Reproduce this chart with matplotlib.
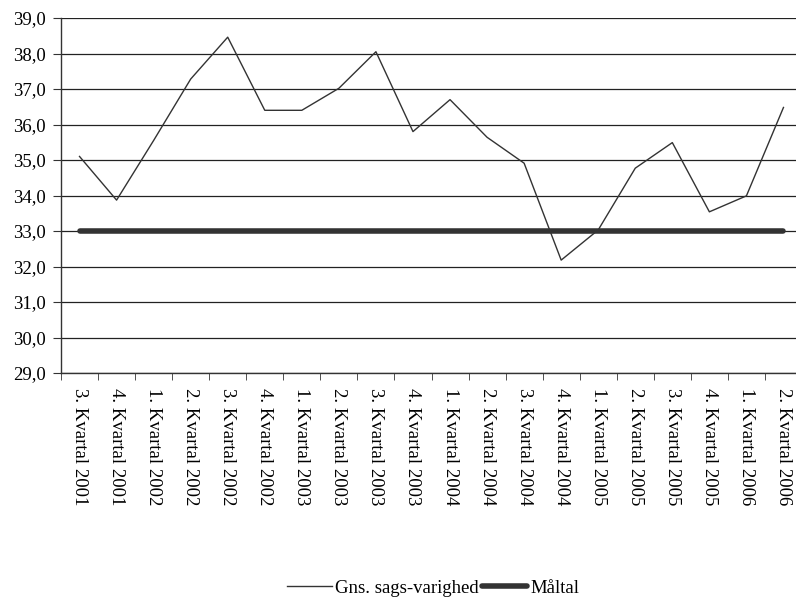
import numpy as np
import matplotlib
matplotlib.use("Agg")
import matplotlib.pyplot as plt

quarters = ["3. Kvartal 2001", "4. Kvartal 2001", "1. Kvartal 2002", "2. Kvartal 2002",
            "3. Kvartal 2002", "4. Kvartal 2002", "1. Kvartal 2003", "2. Kvartal 2003",
            "3. Kvartal 2003", "4. Kvartal 2003", "1. Kvartal 2004", "2. Kvartal 2004",
            "3. Kvartal 2004", "4. Kvartal 2004", "1. Kvartal 2005", "2. Kvartal 2005",
            "3. Kvartal 2005", "4. Kvartal 2005", "1. Kvartal 2006", "2. Kvartal 2006"]
varighed = [35.1, 33.87, 35.55, 37.28, 38.46, 36.4, 36.4, 37.02, 38.05, 35.8,
            36.7, 35.64, 34.91, 32.18, 33.03, 34.77, 35.49, 33.54, 33.99, 36.48]
maaltal = [33.0] * len(quarters)

plt.rcParams['font.family'] = ['Liberation Serif', 'DejaVu Serif']

fig = plt.figure(figsize=(7.96, 6.02), dpi=100)
ax = fig.add_axes([61 / 796, 1 - 373 / 602, (802 - 61) / 796, 355 / 602])

x = np.arange(len(quarters))
ax.plot(x, varighed, color='#333333', lw=1.0, label='Gns. sags-varighed')
ax.plot(x, maaltal, color='#333333', lw=4.0, solid_capstyle='round', label='Måltal')

ax.set_ylim(29, 39)
ax.set_xlim(-0.5, len(quarters) - 0.5)
yt = np.arange(29, 40, 1)
ax.set_yticks(yt)
ax.set_yticklabels([f"{v:.1f}".replace('.', ',') for v in yt], fontsize=13.5)
ax.yaxis.grid(True, color='#222222', lw=0.9)
ax.set_axisbelow(True)

ax.set_xticks(x)
ax.set_xticklabels(quarters, rotation=-90, fontsize=13.5, va='top', ha='center')
ax.tick_params(axis='x', which='major', length=0, pad=11)
ax.set_xticks(np.arange(len(quarters) + 1) - 0.5, minor=True)
ax.tick_params(axis='x', which='minor', length=5, color='#333333', direction='out')
ax.tick_params(axis='y', length=6, color='#333333', direction='out', pad=5)

for side in ['top', 'right']:
    ax.spines[side].set_visible(False)
for side in ['left', 'bottom']:
    ax.spines[side].set_color('#333333')
    ax.spines[side].set_linewidth(1.0)

fig.legend(loc='center', bbox_to_anchor=(433 / 796, 1 - 588 / 602), ncol=2,
           frameon=False, fontsize=13.5, handlelength=2.4, columnspacing=0.2,
           handletextpad=0.15)

fig.savefig("out.png", dpi=100)
